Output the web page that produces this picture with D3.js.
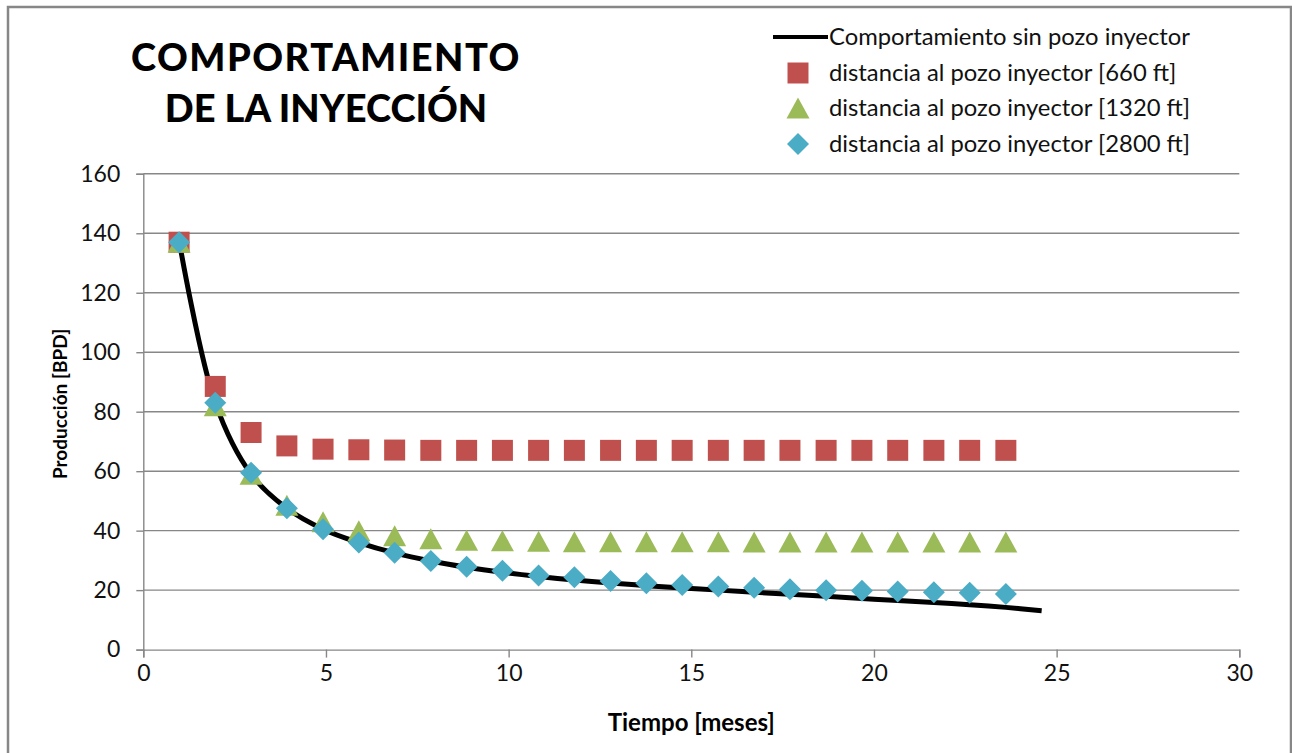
<!DOCTYPE html>
<html>
<head>
<meta charset="utf-8">
<script src="https://cdn.jsdelivr.net/npm/d3@7"></script>
<style>
  html, body { margin: 0; padding: 0; background: #fff; }
  svg { display: block; }
  text { font-family: Lato, "Open Sans", sans-serif; }
</style>
</head>
<body>
<svg id="chart" width="1292" height="753"></svg>
<script>
// Tiempo [meses] for each monthly sample
const months = [0.98, 1.97, 2.95, 3.93, 4.92, 5.90, 6.88, 7.87, 8.85, 9.83, 10.82, 11.80,
                12.79, 13.77, 14.75, 15.74, 16.72, 17.70, 18.69, 19.67, 20.65, 21.64, 22.62, 23.61];
const monthsBase = months.concat([24.59]);

// Producción [BPD]
const sinInyector = [137.5, 83, 59, 47.5, 40.5, 36, 32.5, 29.8, 27.7, 26, 24.6, 23.4, 22.4,
                     21.5, 20.7, 20, 19.3, 18.6, 17.9, 17.2, 16.5, 15.8, 15.1, 14.2, 13.1];
const dist660 = [137, 88.5, 73, 68.5, 67.4, 67.2, 67.1, 67, 67, 67, 67, 67,
                 67, 67, 67, 67, 67, 67, 67, 67, 67, 67, 67, 67];
const dist1320 = [137, 82, 59, 48.5, 43, 40, 38.3, 37.3, 36.8, 36.6, 36.4, 36.3,
                  36.3, 36.3, 36.3, 36.3, 36.2, 36.2, 36.2, 36.2, 36.2, 36.2, 36.2, 36.2];
const dist2800 = [137, 83, 59.5, 47.5, 40.5, 36, 32.6, 29.8, 27.9, 26.5, 24.9, 24.3,
                  23.1, 22.3, 21.7, 21.2, 20.8, 20.3, 20, 19.8, 19.5, 19.3, 19.1, 18.7];

const xTicks = [0, 5, 10, 15, 20, 25, 30];
const yTicks = [0, 20, 40, 60, 80, 100, 120, 140, 160];

const titleLines = ["COMPORTAMIENTO", "DE LA INYECCIÓN"];
const legendLabels = [
  "Comportamiento sin pozo inyector",
  "distancia al pozo inyector [660 ft]",
  "distancia al pozo inyector [1320 ft]",
  "distancia al pozo inyector [2800 ft]"
];

const RED = "#C0504D", GREEN = "#9BBB59", BLUE = "#4BACC6", GRID = "#878787";

const svg = d3.select("#chart");

// outer chart frame
svg.append("rect")
  .attr("x", 8).attr("y", 7).attr("width", 1283).attr("height", 760)
  .attr("fill", "none").attr("stroke", GRID).attr("stroke-width", 2.5);

const plot = { left: 143.3, right: 1239.3, top: 173.8, bottom: 649.6 };

const x = d3.scaleLinear().domain([0, 30]).range([plot.left, plot.right]);
const y = d3.scaleLinear().domain([0, 160]).range([plot.bottom, plot.top]);

// horizontal gridlines
svg.append("g")
  .selectAll("line")
  .data(yTicks.filter(d => d > 0))
  .join("line")
  .attr("x1", plot.left).attr("x2", plot.right)
  .attr("y1", d => y(d)).attr("y2", d => y(d))
  .attr("stroke", GRID).attr("stroke-width", 1.4);

// axes
const xAxis = svg.append("g")
  .attr("transform", `translate(0,${plot.bottom})`)
  .call(d3.axisBottom(x).tickValues(xTicks).tickSize(8).tickPadding(7).tickFormat(d3.format("d")));
const yAxis = svg.append("g")
  .attr("transform", `translate(${plot.left},0)`)
  .call(d3.axisLeft(y).tickValues(yTicks).tickSize(7).tickPadding(16).tickFormat(d3.format("d")));

[xAxis, yAxis].forEach(ax => {
  ax.select(".domain").attr("stroke", GRID).attr("stroke-width", 1.4);
  ax.selectAll(".tick line").attr("stroke", GRID).attr("stroke-width", 1.4);
  ax.selectAll(".tick text")
    .attr("fill", "#111")
    .style("font-family", "Lato, sans-serif")
    .style("font-size", "23px");
});
xAxis.selectAll(".tick text").attr("dy", "0.71em");

// axis titles
svg.append("text")
  .attr("x", (plot.left + plot.right) / 2).attr("y", 731)
  .attr("text-anchor", "middle")
  .style("font-size", "24px").style("font-weight", "bold")
  .text("Tiempo [meses]");
svg.append("text")
  .attr("transform", `translate(67,404) rotate(-90)`)
  .attr("text-anchor", "middle")
  .style("font-size", "19px").style("font-weight", "bold")
  .text("Producción [BPD]");

// chart title
const titleSpacing = ["1.5px", "0px"];
svg.append("g")
  .selectAll("text")
  .data(titleLines)
  .join("text")
  .attr("x", 326).attr("y", (d, i) => 71 + i * 51)
  .attr("text-anchor", "middle")
  .style("font-size", "38px").style("font-weight", "900")
  .style("letter-spacing", (d, i) => titleSpacing[i])
  .text(d => d);

// production without injector well
const line = d3.line().x(d => x(d[0])).y(d => y(d[1])).curve(d3.curveCatmullRom.alpha(0.5));
svg.append("path")
  .datum(monthsBase.map((m, i) => [m, sinInyector[i]]))
  .attr("d", line)
  .attr("fill", "none").attr("stroke", "#000").attr("stroke-width", 5)
  .attr("stroke-linejoin", "round");

// marker shapes, each centred on its bounding box
const shapes = {
  square: "M-10.5,-10.5H10.5V10.5H-10.5Z",
  triangle: "M0,-10.5L11.5,10.5H-11.5Z",
  diamond: "M0,-11L11,0L0,11L-11,0Z"
};

function markers(values, shape, color) {
  svg.append("g")
    .selectAll("path")
    .data(values.map((v, i) => [months[i], v]))
    .join("path")
    .attr("transform", d => `translate(${x(d[0])},${y(d[1])})`)
    .attr("d", shapes[shape])
    .attr("fill", color);
}
markers(dist660, "square", RED);
markers(dist1320, "triangle", GREEN);
markers(dist2800, "diamond", BLUE);

// legend
const lg = svg.append("g");
const rowY = [37, 73, 108, 144];
lg.append("line")
  .attr("x1", 773).attr("x2", 828).attr("y1", rowY[0]).attr("y2", rowY[0])
  .attr("stroke", "#000").attr("stroke-width", 4);
const legendSyms = [["square", RED], ["triangle", GREEN], ["diamond", BLUE]];
legendSyms.forEach((s, i) => {
  lg.append("path")
    .attr("transform", `translate(798,${rowY[i + 1]})`)
    .attr("d", shapes[s[0]])
    .attr("fill", s[1]);
});
lg.selectAll("text")
  .data(legendLabels)
  .join("text")
  .attr("x", 829).attr("y", (d, i) => rowY[i])
  .attr("dy", "0.35em")
  .attr("fill", "#111")
  .style("font-size", "23.8px")
  .text(d => d);
</script>
</body>
</html>
